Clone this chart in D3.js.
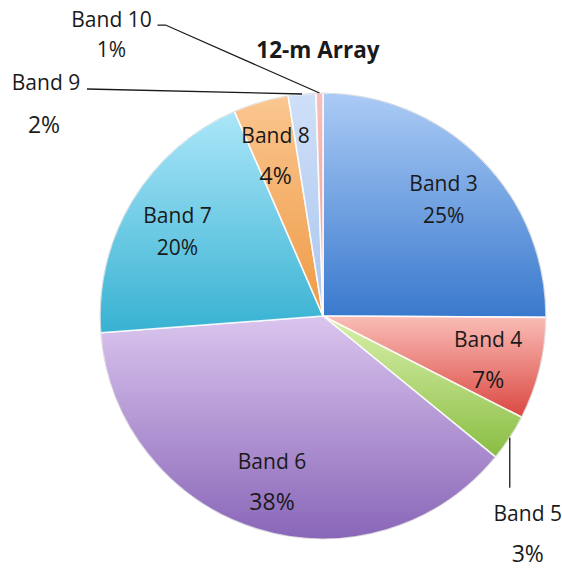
<!DOCTYPE html>
<html>
<head>
<meta charset="utf-8">
<script src="https://cdn.jsdelivr.net/npm/d3@7"></script>
<style>
  html, body { margin: 0; padding: 0; background: #fff; }
  svg { display: block; }
  text { font-family: "Open Sans", Lato, sans-serif; fill: #1a1a1a; }
</style>
</head>
<body>
<svg id="chart" width="562" height="569"></svg>
<script>
// ---- data ----
const title = "12-m Array";
const categories = ["Band 3", "Band 4", "Band 5", "Band 6", "Band 7", "Band 8", "Band 9", "Band 10"];
const shares = [25.1, 7.4, 3.4, 37.9, 19.7, 4.0, 2.0, 0.5];
const percentLabels = ["25%", "7%", "3%", "38%", "20%", "4%", "2%", "1%"];

// ---- styles ----
const topColors    = ["#abcbf5", "#fabdb7", "#daf1ad", "#dac5ee", "#ace6f9", "#fbc690", "#cfe0f8", "#f6bfbb"];
const bottomColors = ["#3979cd", "#da4841", "#89bd42", "#8966b8", "#37b2d2", "#ee9a45", "#a9c5ee", "#ee9d98"];

const W = 562, H = 569;
const cx = 323, cy = 316, R = 223;
const labelR = 170;
const outside = new Set(["Band 5", "Band 9", "Band 10"]);

const svg = d3.select("#chart");
const defs = svg.append("defs");
categories.forEach((c, i) => {
  const g = defs.append("linearGradient")
    .attr("id", "grad" + i).attr("x1", 0).attr("y1", 0).attr("x2", 0).attr("y2", 1);
  g.append("stop").attr("offset", "0%").attr("stop-color", topColors[i]);
  g.append("stop").attr("offset", "100%").attr("stop-color", bottomColors[i]);
});

const data = categories.map((c, i) => ({ cat: c, value: shares[i], label: percentLabels[i], i }));
const pie = d3.pie().sort(null).value(d => d.value).startAngle(0).endAngle(2 * Math.PI);
const arcs = pie(data);
const arc = d3.arc().innerRadius(0).outerRadius(R);
const labelArc = d3.arc().innerRadius(labelR).outerRadius(labelR);
const edgeArc = d3.arc().innerRadius(R).outerRadius(R);

const g = svg.append("g").attr("transform", `translate(${cx},${cy})`);

g.selectAll("path.slice").data(arcs).enter().append("path")
  .attr("class", "slice")
  .attr("d", arc)
  .attr("fill", d => `url(#grad${d.data.i})`)
  .attr("stroke", "#ffffff")
  .attr("stroke-opacity", 0.85)
  .attr("stroke-width", 1.6)
  .attr("stroke-linejoin", "round");

// subtle dark outer rim
g.append("circle").attr("r", R).attr("fill", "none")
  .attr("stroke", "#000").attr("stroke-opacity", 0.12).attr("stroke-width", 1);

// inside labels
const FS = 21;
const inside = arcs.filter(d => !outside.has(d.data.cat));
inside.forEach(d => {
  const [x, y] = labelArc.centroid(d);
  const t = g.append("text").attr("text-anchor", "middle").attr("font-size", FS);
  const big = d.data.cat === "Band 4" || d.data.cat === "Band 6" || d.data.cat === "Band 8";
  const gap = big ? 41 : 32;
  t.append("tspan").attr("x", x).attr("y", y - gap / 2 + 11).text(d.data.cat);
  t.append("tspan").attr("x", x).attr("y", y + gap / 2 + 11)
    .attr("font-size", big ? 23 : FS).text(d.data.label);
});

// outside labels with leader lines
const lineStyle = sel => sel.attr("fill", "none").attr("stroke", "#1a1a1a").attr("stroke-width", 1.3);
const byCat = {};
arcs.forEach(d => byCat[d.data.cat] = d);

// Band 5
{
  const d = byCat["Band 5"];
  const [x, y] = edgeArc.centroid(d);
  g.append("path").attr("d", d3.line()([[x, y], [x, y + 50]])).call(lineStyle);
  const t = g.append("text").attr("text-anchor", "middle").attr("font-size", FS);
  t.append("tspan").attr("x", x + 18).attr("y", y + 83).text(d.data.cat);
  t.append("tspan").attr("x", x + 18).attr("y", y + 124).attr("font-size", 23).text(d.data.label);
}
// Band 9
{
  const d = byCat["Band 9"];
  const [x, y] = edgeArc.centroid(d);
  g.append("path").attr("d", d3.line()([[x, y], [x - 215, y - 5]])).call(lineStyle);
  const t = g.append("text").attr("text-anchor", "middle").attr("font-size", FS);
  t.append("tspan").attr("x", x - 256).attr("y", y - 4).text(d.data.cat);
  t.append("tspan").attr("x", x - 258).attr("y", y + 39).attr("font-size", 23).text(d.data.label);
}
// Band 10
{
  const d = byCat["Band 10"];
  const [x, y] = edgeArc.centroid(d);
  g.append("path").attr("d", d3.line()([[x, y], [x - 154, y - 68], [x - 162, y - 68]])).call(lineStyle);
  const t = g.append("text").attr("text-anchor", "middle").attr("font-size", FS);
  t.append("tspan").attr("x", x - 208).attr("y", y - 66).text(d.data.cat);
  t.append("tspan").attr("x", x - 208).attr("y", y - 36).text(d.data.label);
}

// title
svg.append("text").attr("x", 318).attr("y", 58).attr("text-anchor", "middle")
  .attr("font-size", 22.5).attr("font-weight", "bold").text(title);
</script>
</body>
</html>
